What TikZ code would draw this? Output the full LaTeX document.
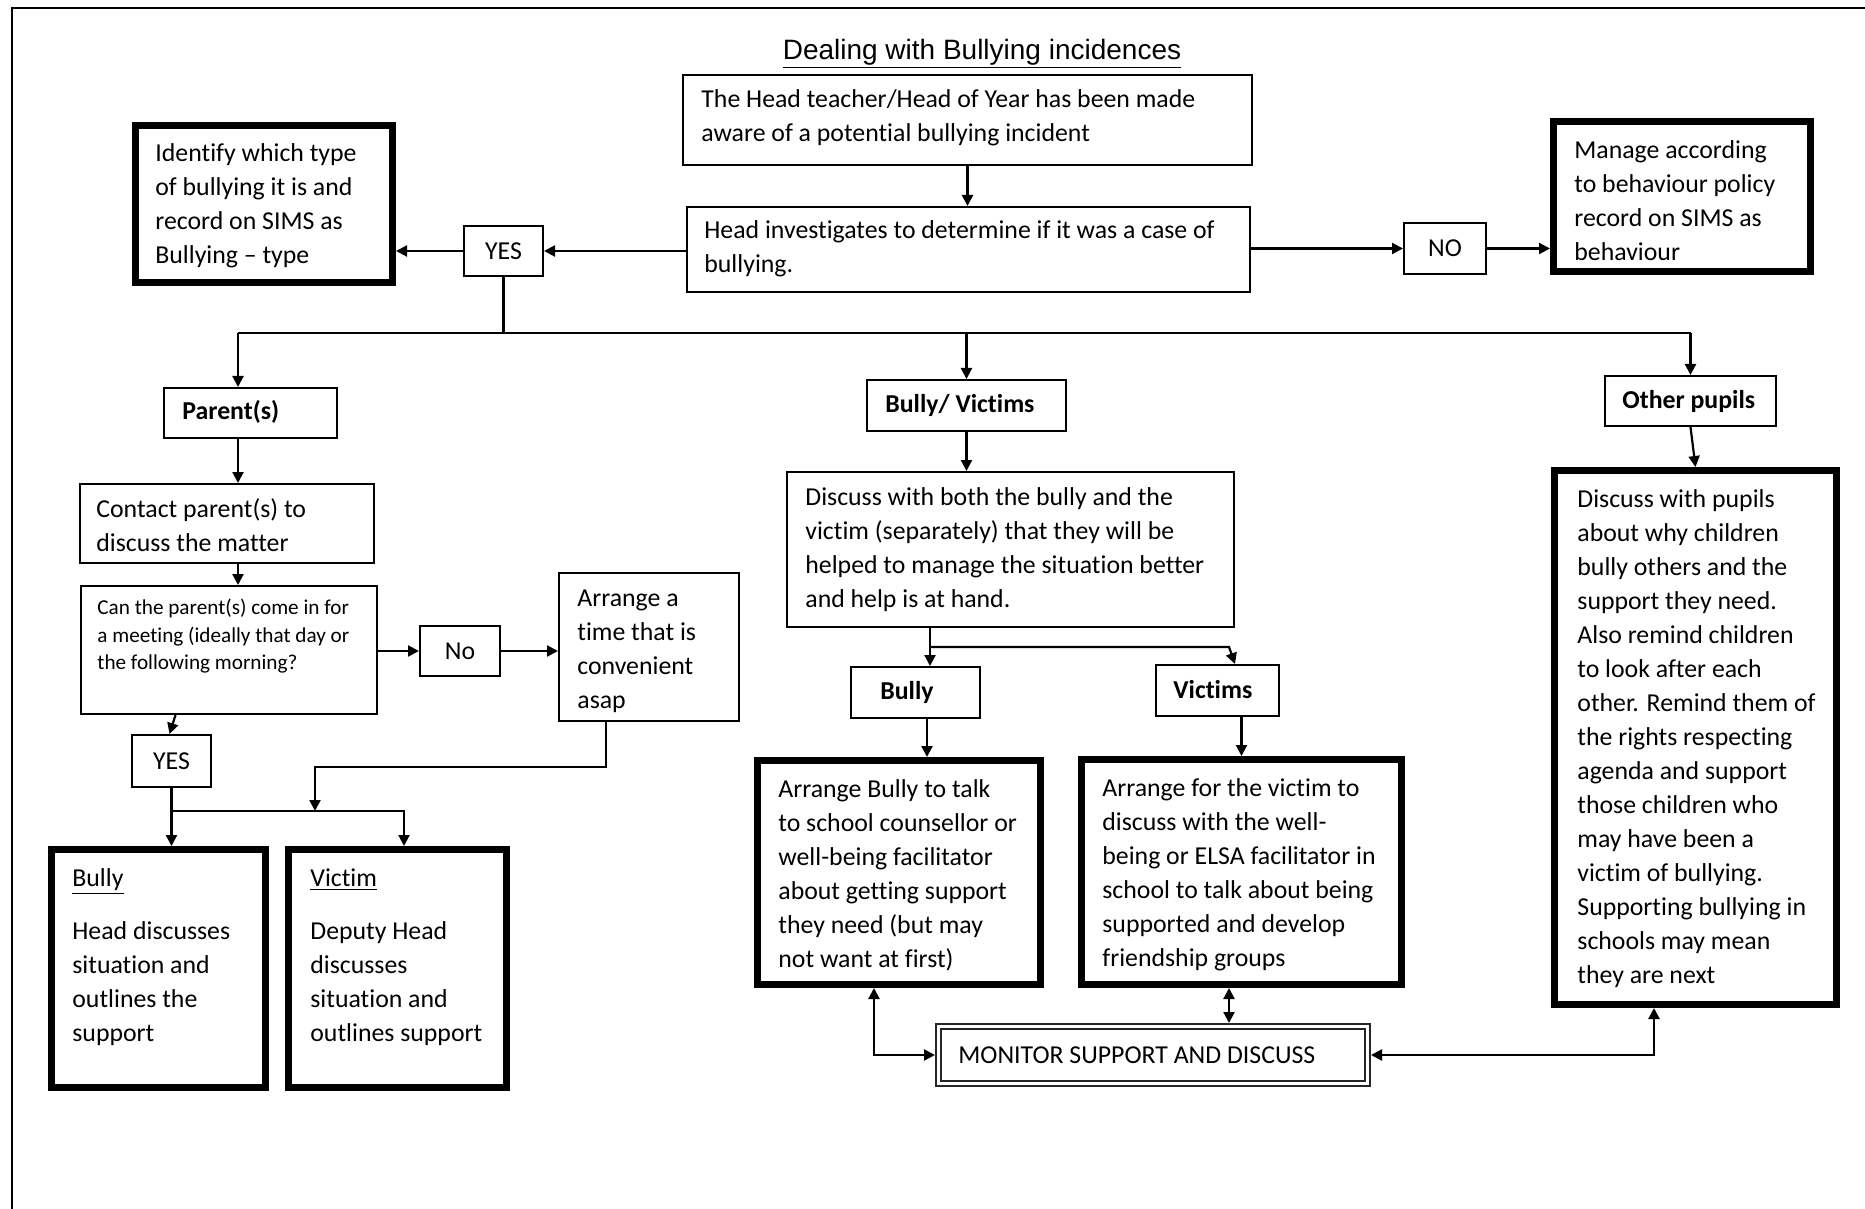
\documentclass[tikz,border=0pt]{standalone}
\usepackage{fontspec}
\setmainfont[Ligatures={NoCommon}]{Carlito}
\newfontfamily\titlefont{Liberation Sans}
\usetikzlibrary{arrows.meta,calc}
\tikzset{
  thin box/.style={draw, line width=0.8pt, inner sep=0pt, outer sep=auto, anchor=north west},
  thick box/.style={draw, line width=3.5pt, inner sep=0pt, outer sep=auto, anchor=north west},
  txt/.style={align=left, anchor=west, inner sep=0pt, font=\fontsize{12.9}{17}\selectfont},
  small txt/.style={txt, font=\fontsize{10.6}{13.75}\selectfont},
  lbl/.style={inner sep=0pt, font=\fontsize{12.9}{17}\selectfont},
  bold lbl/.style={inner sep=0pt, anchor=west, font=\fontsize{12.9}{17}\selectfont\bfseries},
  conn/.style={line width=1.1pt},
  arr/.style={conn, -{Triangle[length=5.5pt,width=5.5pt]}},
  arr2/.style={conn, {Triangle[length=5.5pt,width=5.5pt]}-{Triangle[length=5.5pt,width=5.5pt]}},
}
\newcommand\mkbox[6]{\node[#1, minimum width={(#5-#3)*0.5pt-\pgflinewidth}, minimum height={(#6-#4)*0.5pt-\pgflinewidth}] (#2) at (#3,#4) {};}
\begin{document}
\begin{tikzpicture}[x=0.5pt,y=-0.5pt]
\useasboundingbox (0,0) rectangle (1865,1209);
\draw[line width=0.8pt] (12,1209) -- (12,8) -- (1865,8);

% title
\node[inner sep=0pt, font=\titlefont\fontsize{14}{16}\selectfont] (title) at (982,54) {\underline{Dealing with Bullying incidences}};

% thin boxes
\mkbox{thin box}{A}{682}{74}{1253}{166}
\mkbox{thin box}{B}{686}{206}{1251}{293}
\mkbox{thin box}{YES}{463}{225}{544}{277}
\mkbox{thin box}{NO}{1403}{222}{1487}{275}
\mkbox{thin box}{Par}{163}{387}{338}{439}
\mkbox{thin box}{Con}{79}{483}{375}{564}
\mkbox{thin box}{Can}{80}{585}{378}{715}
\mkbox{thin box}{No}{419}{625}{501}{677}
\mkbox{thin box}{Arr}{558}{572}{740}{722}
\mkbox{thin box}{YESb}{131}{734}{212}{788}
\mkbox{thin box}{BV}{866}{379}{1067}{432}
\mkbox{thin box}{Dis}{786}{471}{1235}{628}
\mkbox{thin box}{Bul}{850}{666}{981}{719}
\mkbox{thin box}{Vic}{1155}{664}{1280}{717}
\mkbox{thin box}{Oth}{1604}{375}{1777}{427}
% thick boxes
\mkbox{thick box}{Id}{132}{122}{396}{286}
\mkbox{thick box}{Man}{1550}{118}{1814}{275}
\mkbox{thick box}{BulL}{48}{846}{269}{1091}
\mkbox{thick box}{VicL}{285}{846}{510}{1091}
\mkbox{thick box}{ArrB}{754}{757}{1044}{988}
\mkbox{thick box}{ArrV}{1078}{756}{1405}{988}
\mkbox{thick box}{DisP}{1551}{467}{1840}{1008}
% monitor (double border)
\node[draw=black!85, double=white, double distance=1.6pt, line width=0.9pt, inner sep=0pt, outer sep=1.7pt, anchor=north west,
  minimum width={(1371-935)*0.5pt-3.4pt}, minimum height={(1087-1023)*0.5pt-3.4pt}] (Mon) at (935,1023) {};

% texts
\node[txt] (A-t) at (701,118) {The Head teacher/Head of Year has been made\\aware of a potential bullying incident};
\node[txt] (B-t) at (704,248.5) {Head investigates to determine if it was a case of\\bullying.};
\node[lbl] (YES-t) at (YES) {YES};
\node[lbl] (NO-t) at (NO) {NO};
\node[txt] (Id-t) at (155,206) {Identify which type\\of bullying it is and\\record on SIMS as\\Bullying – type};
\node[txt] (Man-t) at (1574,201) {Manage according\\to behaviour policy\\record on SIMS as\\behaviour};
\node[bold lbl] (Par-t) at (182,412) {Parent(s)};
\node[txt] (Con-t) at (96,525.5) {Contact parent(s) to\\discuss the matter};
\node[small txt] (Can-t) at (97,636.5) {Can the parent(s) come in for\\a meeting (ideally that day or\\the following morning?};
\node[lbl] (No-t) at (No) {No};
\node[txt] (Arr-t) at (577,651) {Arrange a\\time that is\\convenient\\asap};
\node[lbl] (YESb-t) at (YESb) {YES};
\node[txt] (BulL-t) at (72,957) {\underline{Bully}\\[9.5pt]Head discusses\\situation and\\outlines the\\support};
\node[txt] (VicL-t) at (310,957) {\underline{Victim}\\[9.5pt]Deputy Head\\discusses\\situation and\\outlines support};
\node[bold lbl] (BV-t) at (885,405) {Bully/ Victims};
\node[txt] (Dis-t) at (805,550) {Discuss with both the bully and the\\victim (separately) that they will be\\helped to manage the situation better\\and help is at hand.};
\node[bold lbl] (Bul-t) at (880,692) {Bully};
\node[bold lbl] (Vic-t) at (1173,690) {Victims};
\node[txt] (ArrB-t) at (778,875) {Arrange Bully to talk\\to school counsellor or\\well-being facilitator\\about getting support\\they need (but may\\not want at first)};
\node[txt] (ArrV-t) at (1102,875) {Arrange for the victim to\\discuss with the well-\\being or ELSA facilitator in\\school to talk about being\\supported and develop\\friendship groups};
\node[bold lbl] (Oth-t) at (1622,401) {Other pupils};
\node[txt] (DisP-t) at (1577,739) {Discuss with pupils\\about why children\\bully others and the\\support they need.\\Also remind children\\to look after each\\other. Remind them of\\the rights respecting\\agenda and support\\those children who\\may have been a\\victim of bullying.\\Supporting bullying in\\schools may mean\\they are next};
\node[lbl, anchor=west] (Mon-t) at (958,1055) {MONITOR SUPPORT AND DISCUSS};

% connectors top
\draw[arr] (A.south) -- (A.south |- B.north);
\draw[arr] (B.west |- YES.east) -- (YES.east);
\draw[arr] (YES.west) -- (YES.west -| Id.east);
\draw[arr] (B.east |- NO.west) -- (NO.west);
\draw[arr] (NO.east) -- (NO.east -| Man.west);

\coordinate (hl) at (238,333);
\draw[conn] (YES.south) -- (YES.south |- hl);
\draw[conn] (hl) -- (Oth.north |- hl);
\draw[arr] (hl) -- (hl |- Par.north);
\draw[arr] (BV.north |- hl) -- (BV.north);
\draw[arr] (Oth.north |- hl) -- (Oth.north);

% parents branch
\draw[arr] (hl |- Par.south) -- (hl |- Con.north);
\draw[arr] (hl |- Con.south) -- (hl |- Can.north);
\draw[arr] (Can.east |- No.west) -- (No.west);
\draw[arr] (No.east) -- (No.east -| Arr.west);
\draw[arr] ($(Can.south -| YESb.north)+(4,0)$) -- ($(YESb.north)+(-2,0)$);
\coordinate (j0) at (0,811);
\coordinate (jr) at (404,811);
\draw[arr] (YESb.south) -- (YESb.south |- BulL.north);
\draw[arr] (YESb.south |- j0) -- (jr) -- (jr |- VicL.north);
\coordinate (k) at (606,767);
\coordinate (k2) at (315,767);
\draw[arr] (k |- Arr.south) -- (k) -- (k2) -- (k2 |- j0);

% bully / victims branch
\draw[arr] (BV.south) -- (BV.south |- Dis.north);
\coordinate (s) at (930,647);
\coordinate (s2) at (1229,647);
\draw[arr] (s |- Dis.south) -- (s |- Bul.north);
\draw[arr] (s) -- (s2) -- ($(s2 |- Vic.north)+(6,0)$);
\draw[arr] ($(s |- Bul.south)+(-3,0)$) -- ($(s |- ArrB.north)+(-3,0)$);
\draw[arr] (ArrV.north |- Vic.south) -- (ArrV.north);

% other pupils
\draw[arr] (Oth.south) -- (DisP.north);

% monitor
\coordinate (m1) at (874,0);
\coordinate (m2) at (1229,0);
\coordinate (m3) at (1654,0);
\draw[arr2] (m1 |- ArrB.south) |- (Mon.west);
\draw[arr2] (m2 |- ArrV.south) -- (m2 |- Mon.north);
\draw[arr2] (Mon.east) -| (m3 |- DisP.south);
\end{tikzpicture}
\end{document}
